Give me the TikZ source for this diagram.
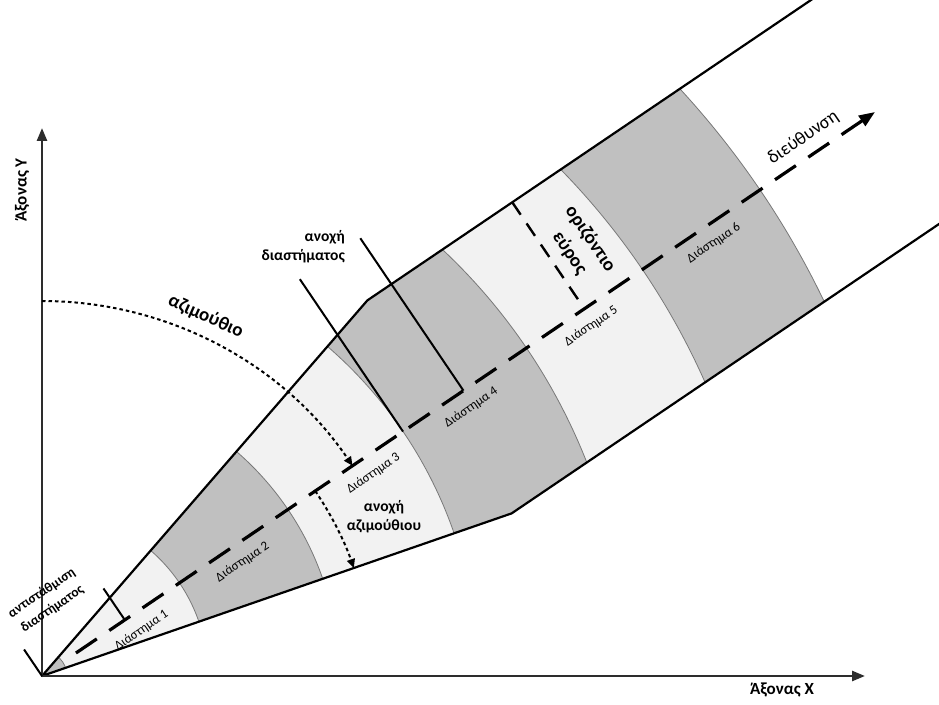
\documentclass[tikz,border=0pt]{standalone}
\usepackage{fontspec}
\setmainfont{Carlito}
\usetikzlibrary{arrows.meta,calc}
\definecolor{bandD}{RGB}{192,192,192}
\definecolor{bandL}{RGB}{242,242,242}
\definecolor{edgeC}{RGB}{120,120,120}
\definecolor{axisC}{RGB}{45,45,45}
\tikzset{
  beamline/.style={line width=2.2pt, black, line join=round},
  axisline/.style={line width=2.6pt, axisC, -{Triangle[length=13pt,width=10pt]}},
  centreline/.style={line width=3.2pt, black, dash pattern=on 25.2pt off 15pt, -{Triangle[length=16pt,width=12pt]}},
  extline/.style={line width=2pt, black},
  widthline/.style={line width=2.4pt, black, dash pattern=on 15pt off 10.5pt},
  dotarc/.style={line width=2pt, black, dash pattern=on 3.5pt off 3pt, -{Triangle[length=9pt,width=8pt]}},
  biglbl/.style={font=\fontsize{15.5}{19}\selectfont\bfseries, inner sep=0pt, align=center},
  hugelbl/.style={font=\fontsize{19}{25}\selectfont\bfseries, inner sep=0pt, align=center},
  axlbl/.style={font=\fontsize{17}{20}\selectfont\bfseries, inner sep=0pt},
  bandlbl/.style={font=\fontsize{13}{14}\selectfont, inner sep=0pt, rotate=34.1},
}
\begin{document}
\begin{tikzpicture}[x=1pt,y=1pt]
\useasboundingbox (0,0) rectangle (939,704);
\clip (0,0) rectangle (939,704);
\pgfmathsetmacro{\angC}{34.1}
\pgfmathsetmacro{\angU}{49.1}
\pgfmathsetmacro{\angL}{19.1}
\pgfmathsetmacro{\angP}{124.1}
\pgfmathsetmacro{\angN}{-55.9}
\coordinate (O) at (42,28);
\coordinate (U) at ($(O)+(\angU:497)$);
\coordinate (L) at ($(O)+(\angL:497)$);
\coordinate (Uend) at ($(U)+(\angC:560)$);
\coordinate (Lend) at ($(L)+(\angC:560)$);
% bands
\begin{scope}
  \clip (O) -- (L) -- (Lend) -- (Uend) -- (U) -- cycle;
  \foreach \r/\c in {867/bandD,725/bandL,585/bandD,436/bandL,297/bandD,166/bandL,25/bandD}
    \filldraw[fill=\c, draw=edgeC, line width=0.8pt] (O) circle[radius=\r];
\end{scope}
% beam outline
\draw[beamline] (Uend) -- (U) -- (O) -- (L) -- (Lend);
% axes
\coordinate (Xend) at (865,28);
\coordinate (Yend) at (42,576);
\draw[axisline] (O) -- (Xend);
\draw[axisline] (O) -- (Yend);
% extension lines
\coordinate (T0) at ($(O)+(\angP:32)$);
\coordinate (P1) at ($(O)+(\angC:100)$);
\coordinate (P1e) at ($(P1)+(\angP:38)$);
\coordinate (Q1) at ($(O)+(\angC:436)$);
\coordinate (Q1e) at ($(Q1)+(\angP:184)$);
\coordinate (Q2) at ($(O)+(\angC:509)$);
\coordinate (Q2e) at ($(Q2)+(\angP:184)$);
\coordinate (H1) at ($(O)+(\angC:655)$);
\coordinate (H1e) at ($(H1)+(\angP:128.6)$);
\draw[extline] (O) -- (T0);
\draw[extline] (P1) -- (P1e);
\draw[extline] (Q1) -- (Q1e);
\draw[extline] (Q2) -- (Q2e);
\draw[widthline] (H1e) -- (H1);
% centre line
\coordinate (C0) at ($(O)+(\angC:41)$);
\coordinate (Ctip) at ($(O)+(\angC:1006)$);
\draw[centreline] (C0) -- (Ctip);
% dotted arcs
\coordinate (Az0) at ($(O)+(90:375)$);
\coordinate (At0) at ($(O)+(\angC:330)$);
\draw[dotarc] (Az0) arc[start angle=90, end angle=\angC, radius=375];
\draw[dotarc] (At0) arc[start angle=\angC, end angle=\angL, radius=330];
% labels
\node[axlbl, rotate=90] (ylab) at (22,514) {Άξονας Υ};
\node[axlbl] (xlab) at (782,14) {Άξονας Χ};
\node[hugelbl, rotate=-24.5] (azl) at ($(O)+(65.5:395)$) {αζιμούθιο};
\node[biglbl, align=right, anchor=east] (rtl) at (345,457) {ανοχή\\διαστήματος};
\node[biglbl] (atl) at (384,187) {ανοχή\\αζιμούθιου};
\node[hugelbl, rotate=\angN] (hwl) at (580,458) {οριζόντιο\\εύρος};
\node[inner sep=0pt, font=\fontsize{18.5}{22}\selectfont, rotate=\angC] (dirl) at ($(O)+(\angC:932)+(\angP:19)$) {διεύθυνση};
\node[inner sep=0pt, align=center, font=\fontsize{13.5}{19}\selectfont\bfseries, rotate=\angC] (offl) at (47,103) {αντιστάθμιση\\διαστήματος};
\foreach \a/\t [count=\i] in {108/1,230/2,388/3,506/4,651/5,799/6}
  \node[bandlbl] (b\i) at ($(O)+(\angC:\a)+(\angN:18)$) {Διάστημα \t};
\end{tikzpicture}
\end{document}
